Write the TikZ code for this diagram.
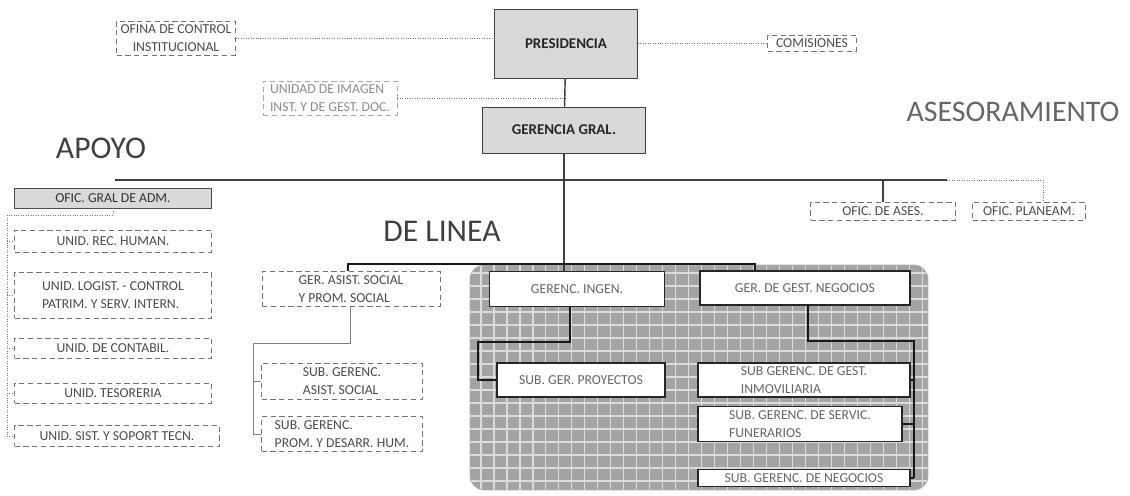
\documentclass[tikz,border=0pt]{standalone}
\usepackage{fontspec}
\setmainfont{Carlito}
\usepackage{tikz}
\usetikzlibrary{arrows,shapes}
\tikzstyle{box}=[draw=black!55,densely dashed,fill=white,text=black!70,inner sep=1pt,align=left,font=\fontsize{7.8}{10.5}\selectfont]
\tikzstyle{faintbox}=[box,draw=black!35,text=black!45]
\tikzstyle{mainbox}=[draw=black!75,fill=black!15,text=black!85,font=\bfseries\fontsize{8.5}{10}\selectfont]
\tikzstyle{admbox}=[box,solid,draw=black!70,fill=black!15,text=black!80]
\tikzstyle{linebox}=[draw=black!85,thick,fill=white,text=black!60,inner sep=1pt,align=left,font=\fontsize{7.8}{10.5}\selectfont]
\tikzstyle{areatitle}=[inner sep=0pt,text=black!75,font=\fontsize{18}{20}\selectfont]
\tikzstyle{edge}=[draw,thick,black!75]
\tikzstyle{dotedge}=[draw,densely dotted,black!55]
\tikzstyle{thinedge}=[draw,black!50]
\tikzstyle{darkedge}=[draw,thick,black!90]

\begin{document}
\begin{tikzpicture}[x=0.02cm,y=-0.02cm]
        \useasboundingbox (0,0) rectangle (1130,496);
        % grey panel behind the line offices
        \begin{scope}
          \clip[rounded corners=8pt] (470,265) rectangle (928,490);
          \fill[black!36] (470,265) rectangle (928,490);
          \draw[black!14,line width=0.7pt,step=0.26cm] (470,265) grid (928,490);
        \end{scope}
        \draw[black!30,rounded corners=8pt] (470,265) rectangle (928,490);

        \node[mainbox,minimum width=2.86cm,minimum height=1.38cm] (pres) at (566,44) {PRESIDENCIA};
        \node[box,align=center,minimum width=2.38cm,minimum height=0.68cm] (oci) at (176,38) {OFINA DE CONTROL\\INSTITUCIONAL};
        \node[box,minimum width=1.78cm,minimum height=0.32cm] (com) at (812,43) {COMISIONES};
        \node[faintbox,minimum width=2.68cm,minimum height=0.68cm] (img) at (330,98) {UNIDAD DE IMAGEN\\INST. Y DE GEST. DOC.};
        \node[mainbox,minimum width=3.26cm,minimum height=0.92cm] (gg) at (564,130) {GERENCIA GRAL.};

        \node[areatitle] (apoyo) at (101,148) {APOYO};
        \node[areatitle,text=black!60,font=\fontsize{17}{20}\selectfont] (asesor) at (1013,112) {ASESORAMIENTO};
        \node[areatitle] (linea) at (442,231) {DE LINEA};

        % apoyo
        \node[admbox,minimum width=3.94cm,minimum height=0.40cm] (adm) at (113,198) {OFIC. GRAL DE ADM.};
        \node[box,minimum width=3.94cm,minimum height=0.44cm] (rrhh) at (113,241) {UNID. REC. HUMAN.};
        \node[box,minimum width=3.94cm,minimum height=0.92cm] (logis) at (113,295) {UNID. LOGIST. - CONTROL\\PATRIM. Y SERV. INTERN.};
        \node[box,minimum width=3.94cm,minimum height=0.40cm] (conta) at (113,348) {UNID. DE CONTABIL.};
        \node[box,minimum width=3.94cm,minimum height=0.40cm] (teso) at (113,393) {UNID. TESORERIA};
        \node[box,minimum width=4.10cm,minimum height=0.42cm] (sist) at (117,436) {UNID. SIST. Y SOPORT TECN.};

        % asesoramiento
        \node[box,minimum width=2.90cm,minimum height=0.36cm] (ases) at (883,211) {OFIC. DE ASES.};
        \node[box,minimum width=2.26cm,minimum height=0.36cm] (plan) at (1029,211) {OFIC. PLANEAM.};

        % de linea
        \node[box,minimum width=3.56cm,minimum height=0.70cm] (gas) at (351,289) {GER. ASIST. SOCIAL\\Y PROM. SOCIAL};
        \node[box,minimum width=3.22cm,minimum height=0.72cm] (sas) at (342,381) {SUB. GERENC.\\ASIST. SOCIAL};
        \node[box,minimum width=3.22cm,minimum height=0.70cm] (spd) at (342,434) {SUB. GERENC.\\PROM. Y DESARR. HUM.};
        \node[linebox,minimum width=3.50cm,minimum height=0.70cm] (ingen) at (577,289) {GERENC. INGEN.};
        \node[linebox,minimum width=3.36cm,minimum height=0.68cm] (proy) at (581,380) {SUB. GER. PROYECTOS};
        \node[linebox,minimum width=4.20cm,minimum height=0.68cm] (neg) at (805,288) {GER. DE GEST. NEGOCIOS};
        \node[linebox,minimum width=4.24cm,minimum height=0.68cm] (inmo) at (804,380) {SUB GERENC. DE GEST.\\INMOVILIARIA};
        \node[linebox,minimum width=4.08cm,minimum height=0.70cm] (fun) at (800,424) {SUB. GERENC. DE SERVIC.\\FUNERARIOS};
        \node[linebox,minimum width=4.24cm,minimum height=0.34cm] (sneg) at (804,478) {SUB. GERENC. DE NEGOCIOS};

        \coordinate (hl) at (115,180);
        \coordinate (hr) at (947,180);
        \coordinate (hd) at (1043,180);
        \coordinate (bl) at (348,264);
        \coordinate (br) at (755,264);

        \draw[dotedge] (oci) -- (oci -| pres.west);
        \draw[dotedge] (pres.east |- com) -- (com);
        \draw[dotedge] (img) -- (img -| pres);
        \draw[edge] (pres) -- (gg);
        \draw[edge] (gg.south) -- (gg.south |- ingen.north);
        \draw[edge] (hl) -- (hr);
        \draw[dotedge] (hr) -- (hd) -- (hd |- plan.north);
        \draw[edge] (ases.north) -- (ases.north |- hr);
        \draw[darkedge] (bl |- gas.north) -- (bl) -- (br) -- (br |- neg.north);

        % apoyo units
        \draw[dotedge] (adm.south) -- ++(0,7) -| (7,436);
        \foreach \u in {rrhh,logis,conta,teso,sist}
          \draw[dotedge] (7,0 |- \u) -- (\u.west);

        % asist. social
        \draw[thinedge] (350,307) |- (253,343) -- (253,434);
        \foreach \u in {sas,spd}
          \draw[thinedge] (253,0 |- \u) -- (\u.west);

        % ingenieria
        \draw[darkedge] (570,307) |- (478,342) |- (proy.west);

        % negocios
        \draw[darkedge] (808,305) |- (914,341) -- (914,478);
        \foreach \u in {inmo,fun,sneg}
          \draw[darkedge] (914,0 |- \u) -- (\u.east);
      \end{tikzpicture}
\end{document}
